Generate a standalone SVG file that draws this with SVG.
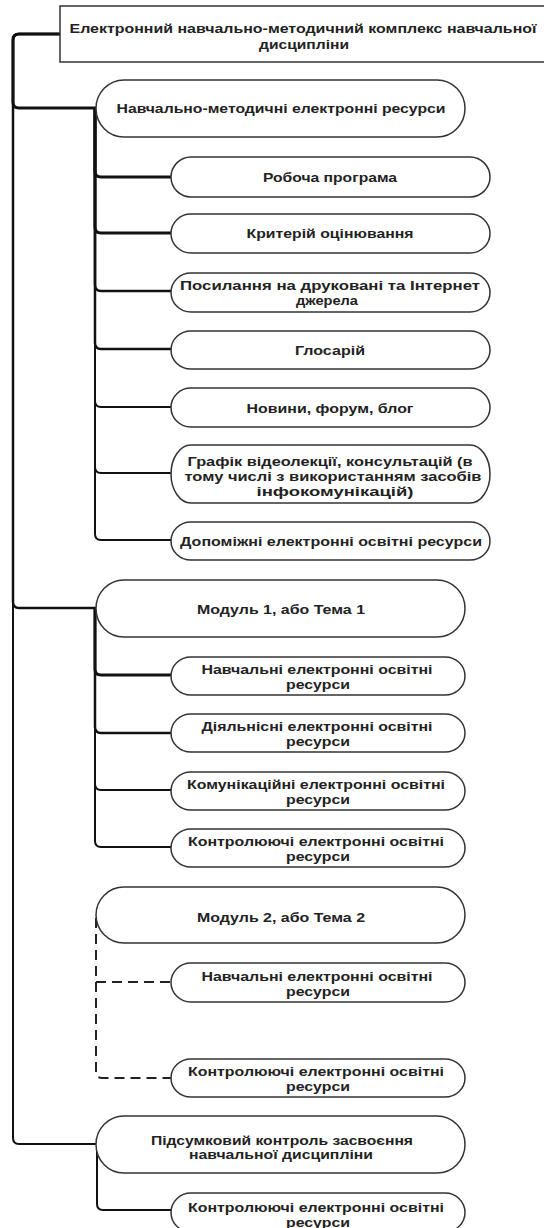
<svg xmlns="http://www.w3.org/2000/svg" width="544" height="1228" viewBox="0 0 544 1228">
<style>
.n{fill:#fff;stroke:#333;stroke-width:1.5}
.t{font-family:"Liberation Sans",Arial,sans-serif;font-weight:bold;font-size:13.5px;fill:#222;text-anchor:middle}
.c{fill:none;stroke:#111;stroke-linejoin:round}
.d{fill:none;stroke:#222;stroke-width:2;stroke-dasharray:10 6}
</style>
<rect width="544" height="1228" fill="#fff"/>
<g id="connectors">
<path class="c" stroke-width="3" d="M60 34H19Q13 34 13 40V102Q13 108 19 108H96"/>
<path class="c" stroke-width="2.5" d="M60 34H19Q13 34 13 40V602Q13 608 19 608H96"/>
<path class="c" stroke-width="2" d="M60 34H19Q13 34 13 40V1138Q13 1144 19 1144H96"/>
<path class="c" stroke-width="3" d="M95 108V171Q95 177 101 177H171"/>
<path class="c" stroke-width="3" d="M95 108V227Q95 233 101 233H171"/>
<path class="c" stroke-width="2.5" d="M95 108V285Q95 291 101 291H171"/>
<path class="c" stroke-width="2.5" d="M95 108V343Q95 349 101 349H171"/>
<path class="c" stroke-width="2" d="M95 108V401Q95 407 101 407H171"/>
<path class="c" stroke-width="2" d="M95 108V467Q95 473 101 473H171"/>
<path class="c" stroke-width="2" d="M95 108V534Q95 540 101 540H171"/>
<path class="c" stroke-width="3" d="M95 608V669Q95 675 101 675H171"/>
<path class="c" stroke-width="2.5" d="M95 608V727Q95 733 101 733H171"/>
<path class="c" stroke-width="2" d="M95 608V784Q95 790 101 790H171"/>
<path class="c" stroke-width="2" d="M95 608V841Q95 847 101 847H171"/>
<path class="d" d="M96 918V1072Q96 1078 102 1078H171"/>
<path class="d" d="M96 982H171"/>
<path class="c" stroke-width="2" d="M97 1144V1204Q97 1210 103 1210H171"/>
</g>
<g id="root">
<rect x="60" y="6" width="492" height="56" fill="#fff" stroke="#333" stroke-width="1.5"/>
<text class="t" x="303" y="32.5" textLength="467" lengthAdjust="spacingAndGlyphs">Електронний навчально-методичний комплекс навчальної</text>
<text class="t" x="304" y="48.5" textLength="90" lengthAdjust="spacingAndGlyphs">дисципліни</text>
</g>
<g id="resources">
<rect class="n" x="96" y="80" width="369" height="57" rx="28" ry="28.5"/>
<text class="t" x="281" y="112.5" textLength="329" lengthAdjust="spacingAndGlyphs">Навчально-методичні електронні ресурси</text>
</g>
<g id="r1">
<rect class="n" x="171" y="157" width="319" height="40" rx="20" ry="20"/>
<text class="t" x="330" y="181.5" textLength="134" lengthAdjust="spacingAndGlyphs">Робоча програма</text>
</g>
<g id="r2">
<rect class="n" x="171" y="214" width="319" height="39" rx="20" ry="19.5"/>
<text class="t" x="330" y="237.5" textLength="167" lengthAdjust="spacingAndGlyphs">Критерій оцінювання</text>
</g>
<g id="r3">
<rect class="n" x="171" y="273" width="319" height="39" rx="20" ry="19.5"/>
<text class="t" x="330" y="289.5" textLength="300" lengthAdjust="spacingAndGlyphs">Посилання на друковані та Інтернет</text>
<text class="t" x="327" y="304.5" textLength="62" lengthAdjust="spacingAndGlyphs">джерела</text>
</g>
<g id="r4">
<rect class="n" x="171" y="331" width="319" height="38" rx="20" ry="19"/>
<text class="t" x="330" y="354.5" textLength="70" lengthAdjust="spacingAndGlyphs">Глосарій</text>
</g>
<g id="r5">
<rect class="n" x="171" y="388" width="319" height="39" rx="20" ry="19.5"/>
<text class="t" x="330" y="412.5" textLength="167" lengthAdjust="spacingAndGlyphs">Новини, форум, блог</text>
</g>
<g id="r6">
<rect class="n" x="171" y="445" width="319" height="58" rx="20" ry="29"/>
<text class="t" x="330" y="466" textLength="285" lengthAdjust="spacingAndGlyphs">Графік відеолекції, консультацій (в</text>
<text class="t" x="333" y="481" textLength="297" lengthAdjust="spacingAndGlyphs">тому числі з використанням засобів</text>
<text class="t" x="335" y="496" textLength="157" lengthAdjust="spacingAndGlyphs">інфокомунікацій)</text>
</g>
<g id="r7">
<rect class="n" x="171" y="522" width="319" height="38" rx="20" ry="19"/>
<text class="t" x="331" y="546" textLength="302" lengthAdjust="spacingAndGlyphs">Допоміжні електронні освітні ресурси</text>
</g>
<g id="module1">
<rect class="n" x="96" y="580" width="369" height="57" rx="28" ry="28.5"/>
<text class="t" x="281" y="613.5" textLength="168" lengthAdjust="spacingAndGlyphs">Модуль 1, або Тема 1</text>
</g>
<g id="m1a">
<rect class="n" x="171" y="657" width="294" height="38" rx="20" ry="19"/>
<text class="t" x="317" y="673.5" textLength="231" lengthAdjust="spacingAndGlyphs">Навчальні електронні освітні</text>
<text class="t" x="318" y="688.5" textLength="64" lengthAdjust="spacingAndGlyphs">ресурси</text>
</g>
<g id="m1b">
<rect class="n" x="171" y="714" width="294" height="38" rx="20" ry="19"/>
<text class="t" x="317" y="731" textLength="231" lengthAdjust="spacingAndGlyphs">Діяльнісні електронні освітні</text>
<text class="t" x="318" y="746" textLength="64" lengthAdjust="spacingAndGlyphs">ресурси</text>
</g>
<g id="m1c">
<rect class="n" x="171" y="772" width="294" height="38" rx="20" ry="19"/>
<text class="t" x="316" y="788.5" textLength="258" lengthAdjust="spacingAndGlyphs">Комунікаційні електронні освітні</text>
<text class="t" x="318" y="803.5" textLength="64" lengthAdjust="spacingAndGlyphs">ресурси</text>
</g>
<g id="m1d">
<rect class="n" x="171" y="829" width="294" height="38" rx="20" ry="19"/>
<text class="t" x="316" y="846" textLength="256" lengthAdjust="spacingAndGlyphs">Контролюючі електронні освітні</text>
<text class="t" x="318" y="861" textLength="64" lengthAdjust="spacingAndGlyphs">ресурси</text>
</g>
<g id="module2">
<rect class="n" x="96" y="887" width="369" height="56" rx="28" ry="28"/>
<text class="t" x="281" y="921.5" textLength="168" lengthAdjust="spacingAndGlyphs">Модуль 2, або Тема 2</text>
</g>
<g id="m2a">
<rect class="n" x="171" y="963" width="294" height="39" rx="20" ry="19.5"/>
<text class="t" x="317" y="980.5" textLength="231" lengthAdjust="spacingAndGlyphs">Навчальні електронні освітні</text>
<text class="t" x="318" y="995.5" textLength="64" lengthAdjust="spacingAndGlyphs">ресурси</text>
</g>
<g id="m2b">
<rect class="n" x="171" y="1059" width="294" height="38" rx="20" ry="19"/>
<text class="t" x="316" y="1076" textLength="256" lengthAdjust="spacingAndGlyphs">Контролюючі електронні освітні</text>
<text class="t" x="318" y="1091" textLength="64" lengthAdjust="spacingAndGlyphs">ресурси</text>
</g>
<g id="final">
<rect class="n" x="96" y="1116" width="369" height="57" rx="28" ry="28.5"/>
<text class="t" x="282" y="1144.5" textLength="262" lengthAdjust="spacingAndGlyphs">Підсумковий контроль засвоєння</text>
<text class="t" x="281" y="1159" textLength="184" lengthAdjust="spacingAndGlyphs">навчальної дисципліни</text>
</g>
<g id="finalc">
<rect class="n" x="171" y="1193" width="294" height="39" rx="20" ry="19.5"/>
<text class="t" x="316" y="1211.5" textLength="256" lengthAdjust="spacingAndGlyphs">Контролюючі електронні освітні</text>
<text class="t" x="318" y="1226.5" textLength="64" lengthAdjust="spacingAndGlyphs">ресурси</text>
</g>
</svg>
